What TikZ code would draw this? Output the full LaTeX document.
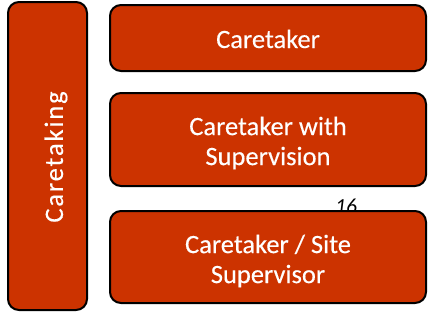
\documentclass[tikz,border=0pt]{standalone}
\usepackage{fontspec}
\setmainfont{Carlito}
\definecolor{boxred}{HTML}{CC3300}
\begin{document}
\begin{tikzpicture}[x=1pt,y=-1pt,
  redbox/.style={draw=black,line width=2pt,fill=boxred,rounded corners=11pt},
  boxtext/.style={text=white,font=\fontsize{26.5}{30}\selectfont\addfontfeature{FakeBold=0.3},align=center,inner sep=0pt}]
\useasboundingbox (0,0) rectangle (430,327);
\node[font=\fontsize{21.5}{24}\selectfont\itshape,anchor=base,inner sep=0pt] (pg) at (346,213) {16};
\draw[redbox] (8,2) rectangle (87,310);
\draw[redbox] (110,5) rectangle (426,71);
\draw[redbox] (110,93) rectangle (426,186);
\draw[redbox] (110,211) rectangle (426,303);
\node[boxtext,rotate=90,font=\fontsize{26.5}{30}\selectfont\addfontfeature{LetterSpace=7,FakeBold=0.3}] (cg) at (56,157) {Caretaking};
\node[boxtext,anchor=base] (c1) at (268,48) {Caretaker};
\node[boxtext] (c2) at (268,143) {Caretaker with\\Supervision};
\node[boxtext] (c3) at (268,261) {Caretaker / Site\\Supervisor};
\end{tikzpicture}
\end{document}
